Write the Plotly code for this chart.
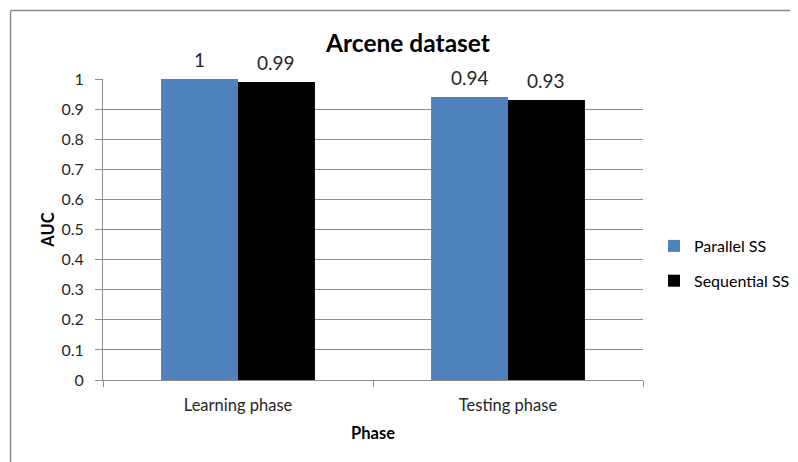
import plotly.graph_objects as go

categories = ["Learning phase", "Testing phase"]
parallel_ss = [1.00, 0.94]
sequential_ss = [0.99, 0.93]
series_names = ["Parallel SS", "Sequential SS"]
series_colors = ["#4F81BD", "#000000"]
y_ticks = [0, 0.1, 0.2, 0.3, 0.4, 0.5, 0.6, 0.7, 0.8, 0.9, 1]
y_tick_labels = ["0", "0.1", "0.2", "0.3", "0.4", "0.5", "0.6", "0.7", "0.8", "0.9", "1"]

FONT = "Lato, 'Liberation Sans', sans-serif"
OFF = 8  # page body margin
W, H = 798 - OFF, 462 - OFF
L = 103 - OFF
T = 79 - OFF
R = W - (643 - OFF)
B = H - (380 - OFF)
pw, ph = W - L - R, H - T - B

fig = go.Figure()
for name, vals, col in zip(series_names, [parallel_ss, sequential_ss], series_colors):
    fig.add_trace(go.Bar(
        x=categories, y=vals, name=name, marker=dict(color=col, line=dict(width=0)),
        legendgroup=name, cliponaxis=False,
    ))

bar_w = pw / 2 * (1 - 0.43) / 2
annotations = []
for i, vals in enumerate([parallel_ss, sequential_ss]):
    shift = (-0.5 if i == 0 else 0.5) * bar_w
    for c, v in zip(categories, vals):
        annotations.append(dict(
            x=c, y=v, xref="x", yref="y", text=("%g" % v), showarrow=False,
            xshift=shift, yshift=6, yanchor="bottom",
            font=dict(family=FONT, size=19, color="#262626"),
        ))

def px_to_paper_x(px):
    # px in screenshot coordinates
    return (px - OFF - L) / pw

def px_to_paper_y(py):
    return (H - B - (py - OFF)) / ph

bx, by = px_to_paper_x(10.5), px_to_paper_y(10.5)
shapes = [
    dict(type="line", xref="paper", yref="paper", x0=bx, y0=by, x1=px_to_paper_x(810), y1=by,
         line=dict(color="#8a8a8a", width=1.5)),
    dict(type="line", xref="paper", yref="paper", x0=bx, y0=by, x1=bx, y1=px_to_paper_y(475),
         line=dict(color="#8a8a8a", width=1.5)),
]

fig.update_layout(
    width=W, height=H,
    margin=dict(l=L, r=R, t=T, b=B, pad=0, autoexpand=False),
    paper_bgcolor="white", plot_bgcolor="white",
    barmode="group", bargap=0.43, bargroupgap=0,
    font=dict(family=FONT, color="#262626"),
    title=dict(text="<b>Arcene dataset</b>", x=(408 - OFF) / W, xanchor="center",
               y=1 - (43 - OFF) / H, yanchor="middle", yref="container",
               font=dict(family=FONT, size=24.5, color="#000000")),
    xaxis=dict(
        showgrid=False, showline=True, linecolor="#8c8c8c", linewidth=1,
        ticks="outside", tickson="boundaries", ticklen=6, tickcolor="#8c8c8c",
        tickfont=dict(family=FONT, size=16.5, color="#262626"),
        ticklabelstandoff=10,
        title=dict(text="<b>Phase</b>", font=dict(family=FONT, size=16.5, color="#000000"), standoff=13),
    ),
    yaxis=dict(
        range=[0, 1], tickvals=y_ticks, ticktext=y_tick_labels,
        showgrid=True, gridcolor="#8c8c8c", gridwidth=1,
        showline=True, linecolor="#8c8c8c", linewidth=1,
        ticks="outside", ticklen=7, tickcolor="#8c8c8c",
        tickfont=dict(family=FONT, size=16, color="#262626"),
        ticklabelstandoff=8,
        zeroline=False,
        title=dict(text="<b>AUC</b>", font=dict(family=FONT, size=16.5, color="#000000"), standoff=2),
    ),
    legend=dict(
        x=px_to_paper_x(654), xanchor="left", y=px_to_paper_y(263.5), yanchor="middle",
        font=dict(family=FONT, size=16, color="#000000"),
        tracegroupgap=11, itemwidth=30, bgcolor="rgba(0,0,0,0)",
    ),
    annotations=annotations,
    shapes=shapes,
    showlegend=True,
)

fig.write_html("out.html")
